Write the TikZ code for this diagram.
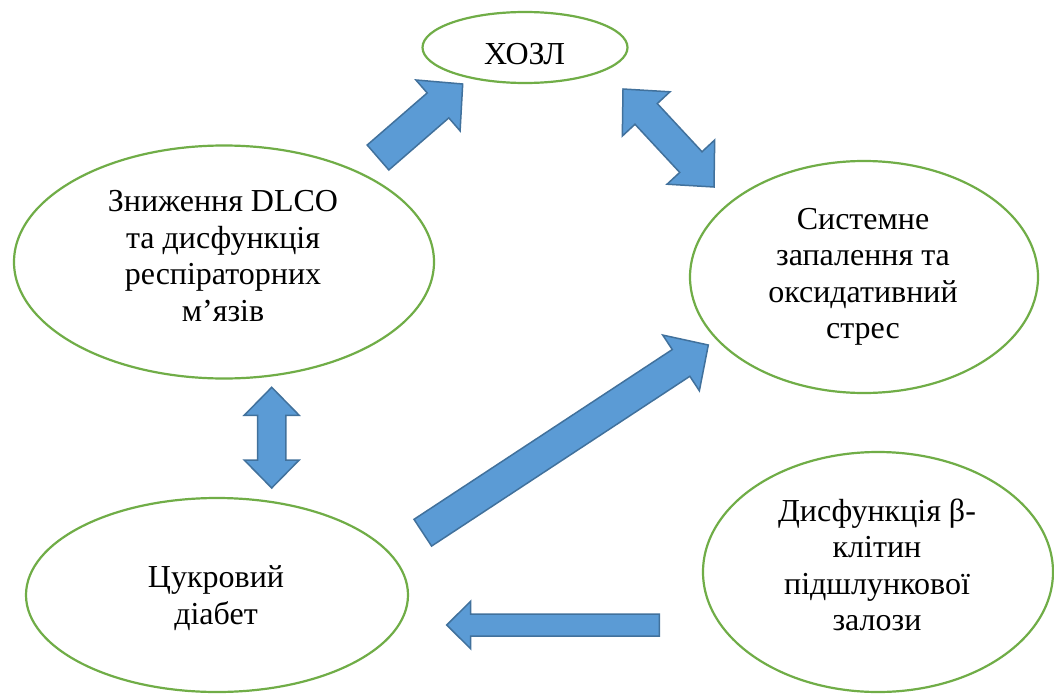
\documentclass[tikz,border=0pt]{standalone}
\usepackage{fontspec}
\setmainfont{Liberation Serif}
\usetikzlibrary{shapes.geometric,calc}
\definecolor{ellgreen}{HTML}{70AD47}
\definecolor{arrfill}{HTML}{5B9BD5}
\definecolor{arrdraw}{HTML}{41719C}
\tikzset{
  bubble/.style 2 args={ellipse, draw=ellgreen, line width=2.2pt, inner sep=0pt,
    minimum width=#1, minimum height=#2},
  txt/.style={align=center, inner sep=0pt, font=\fontsize{32}{36.5}\selectfont},
  blockarrow/.style={fill=arrfill, draw=arrdraw, line width=1.5pt, line join=miter}
}
% single block arrow: tail, tip, half shaft, half head, head length
\newcommand\mybarrow[5]{%
  \coordinate (bH) at ($(#2)!#5!(#1)$);
  \draw[blockarrow] ($(#1)!#3!90:(#2)$) -- ($(bH)!#3!90:(#2)$) -- ($(bH)!#4!90:(#2)$)
    -- (#2) -- ($(bH)!#4!-90:(#2)$) -- ($(bH)!#3!-90:(#2)$) -- ($(#1)!#3!-90:(#2)$) -- cycle;
}
% double block arrow: tip A, tip B, half shaft, half head, head length
\newcommand\mydbarrow[5]{%
  \coordinate (bH1) at ($(#1)!#5!(#2)$);
  \coordinate (bH2) at ($(#2)!#5!(#1)$);
  \draw[blockarrow] (#1) -- ($(bH1)!#4!-90:(#2)$) -- ($(bH1)!#3!-90:(#2)$)
    -- ($(bH2)!#3!90:(#1)$) -- ($(bH2)!#4!90:(#1)$) -- (#2)
    -- ($(bH2)!#4!-90:(#1)$) -- ($(bH2)!#3!-90:(#1)$)
    -- ($(bH1)!#3!90:(#2)$) -- ($(bH1)!#4!90:(#2)$) -- cycle;
}
\begin{document}
\begin{tikzpicture}[x=1pt,y=-1pt]
\useasboundingbox[fill=white] (0,0) rectangle (1054,693);

% ellipses
\node[bubble={205pt}{71pt}] (hozl) at (525,47.5) {};
\node[bubble={420pt}{233pt}] (dlco) at (224,262) {};
\node[bubble={348pt}{232pt}] (syst) at (864,277) {};
\node[bubble={382pt}{194pt}] (diab) at (217,595) {};
\node[bubble={350pt}{240pt}] (beta) at (878,572) {};

% texts
\node[txt] (hozlT) at (524.5,56.7) {\strut ХОЗЛ};
\node[txt] (dlcoT) at (223,259.4) {\strut Зниження DLCO\\\strut та дисфункція\\\strut респіраторних\\\strut м’язів};
\node[txt] (systT) at (863,276.7) {\strut Системне\\\strut запалення та\\\strut оксидативний\\\strut стрес};
\node[txt] (diabT) at (216,598.5) {\strut Цукровий\\\strut діабет};
\node[txt] (betaT) at (877,568.5) {\strut Дисфункція β-\\\strut клітин\\\strut підшлункової\\\strut залози};

% arrow end points
\coordinate (a1s) at (378,157.5);
\coordinate (a1e) at (462.7,84);
\coordinate (a2s) at (623,89);
\coordinate (a2e) at (714,187);
\coordinate (a3s) at (271.7,387.3);
\coordinate (a3e) at (271.7,488);
\coordinate (a4s) at (422.8,532.7);
\coordinate (a4e) at (708.3,345);
\coordinate (a5s) at (659.3,625);
\coordinate (a5e) at (446.7,625);

\mybarrow{a1s}{a1e}{16.5pt}{33.7pt}{32.7pt}
\mydbarrow{a2s}{a2e}{15.2pt}{32.5pt}{34pt}
\mydbarrow{a3s}{a3e}{14.2pt}{27.5pt}{28pt}
\mybarrow{a4s}{a4e}{16pt}{33.3pt}{32.6pt}
\mybarrow{a5s}{a5e}{11pt}{23.8pt}{24pt}
\end{tikzpicture}
\end{document}
